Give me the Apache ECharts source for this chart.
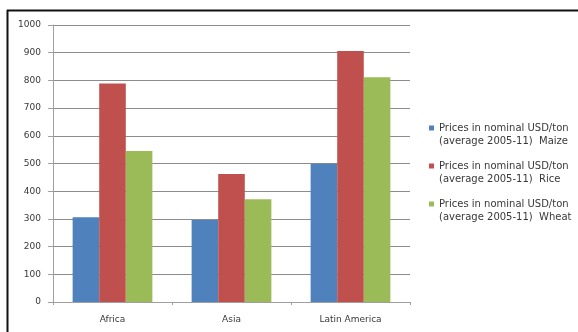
<!DOCTYPE html>
<html><head><meta charset="utf-8">
<script src="https://cdn.jsdelivr.net/npm/echarts@6/dist/echarts.min.js"></script>
<style>html,body{margin:0;padding:0;background:#fff}#c{width:578px;height:332px}</style>
</head><body><div id="c"></div>
<script>
const categories = ['Africa', 'Asia', 'Latin America'];
const maize = [306, 296, 499];
const rice = [789, 462, 906];
const wheat = [545, 371, 811];
const seriesNames = [
  'Prices in nominal USD/ton\n(average 2005-11)  Maize',
  'Prices in nominal USD/ton\n(average 2005-11)  Rice',
  'Prices in nominal USD/ton\n(average 2005-11)  Wheat'
];
const colors = ['#4F81BD', '#C0504D', '#9BBB59'];
const font = 'DejaVu Sans';
const chart = echarts.init(document.getElementById('c'), null, {renderer: 'canvas'});
chart.setOption({
  animation: false,
  backgroundColor: '#fff',
  color: colors,
  textStyle: {fontFamily: font},
  graphic: [
    {type: 'line', shape: {x1: 7, y1: 10.5, x2: 578, y2: 10.5}, style: {stroke: '#111', lineWidth: 2}},
    {type: 'line', shape: {x1: 7.5, y1: 10, x2: 7.5, y2: 332}, style: {stroke: '#111', lineWidth: 2}}
  ],
  grid: {left: 53, top: 25, right: 168, bottom: 30, containLabel: false},
  legend: {
    orient: 'vertical', left: 429, top: 110, padding: 0,
    itemWidth: 5, itemHeight: 5, itemGap: 2, itemTextGap: 7, icon: 'rect',
    formatter: function (name) {
      const parts = name.split('\n');
      return '{s| }\n{t|' + parts[0] + '}\n{t|' + parts[1] + '}';
    },
    textStyle: {
      fontFamily: font, fontSize: 10, color: '#383838',
      rich: {
        s: {fontSize: 10, lineHeight: 13, fontFamily: font},
        t: {fontSize: 10, lineHeight: 13, fontFamily: font, color: '#383838'}
      }
    },
    data: seriesNames
  },
  xAxis: {
    type: 'category', data: categories,
    axisLine: {lineStyle: {color: '#a0a0a0'}},
    axisTick: {show: true, length: 3, lineStyle: {color: '#a0a0a0'}},
    axisLabel: {fontFamily: font, fontSize: 9, color: '#383838', margin: 13}
  },
  yAxis: {
    type: 'value', min: 0, max: 1000, interval: 100,
    axisLine: {show: true, lineStyle: {color: '#a0a0a0'}},
    axisTick: {show: true, length: 5, lineStyle: {color: '#a0a0a0'}},
    axisLabel: {fontFamily: font, fontSize: 9, color: '#383838', margin: 12, formatter: function (v) { return String(v); }},
    splitLine: {lineStyle: {color: '#8c8c8c', width: 1}}
  },
  series: [
    {name: seriesNames[0], type: 'bar', data: maize, barGap: '0%', barCategoryGap: '33%'},
    {name: seriesNames[1], type: 'bar', data: rice, barGap: '0%', barCategoryGap: '33%'},
    {name: seriesNames[2], type: 'bar', data: wheat, barGap: '0%', barCategoryGap: '33%'}
  ]
});
</script></body></html>
